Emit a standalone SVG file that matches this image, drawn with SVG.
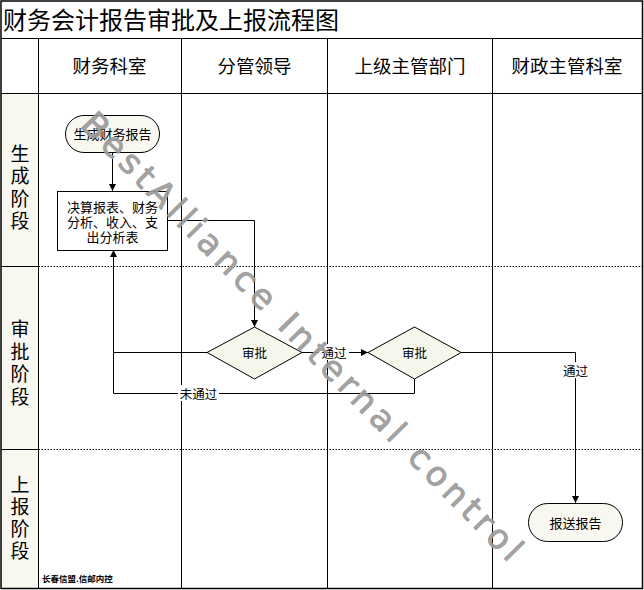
<svg xmlns="http://www.w3.org/2000/svg" width="644" height="590" viewBox="0 0 644 590">
<style>
.t{font-family:"Noto Sans CJK SC","Liberation Sans",sans-serif;fill:#000;text-anchor:middle;dominant-baseline:central}
.grid{stroke:#000;stroke-width:1;fill:none}
.dot{stroke:#000;stroke-width:1;stroke-dasharray:1.5 1.5;fill:none}
.ln{stroke:#000;stroke-width:1;fill:none}
.term{fill:#f8f8f0;stroke:#000;stroke-width:1}
.dia{fill:#f6f6ec;stroke:#000;stroke-width:1}
.lbl{fill:#fff;stroke:none}
</style>
<defs>
<marker id="arr" viewBox="0 0 10 10" refX="10" refY="5" markerWidth="7" markerHeight="7" markerUnits="userSpaceOnUse" orient="auto">
<path d="M0,0 L10,5 L0,10 z" fill="#000"/>
</marker>
</defs>
<rect x="0" y="0" width="644" height="590" fill="#fff"/>
<g id="frame">
<rect x="0.5" y="94" width="38" height="495" fill="#f8f8f0"/>
<rect x="1" y="1" width="641.5" height="587.5" fill="none" stroke="#000" stroke-width="1.5"/>
<line class="grid" x1="1" y1="38.5" x2="643" y2="38.5"/>
<line class="grid" x1="1" y1="93.5" x2="643" y2="93.5"/>
<line class="grid" x1="38.5" y1="38.5" x2="38.5" y2="588"/>
<line class="grid" x1="181.5" y1="38.5" x2="181.5" y2="588"/>
<line class="grid" x1="327.5" y1="38.5" x2="327.5" y2="588"/>
<line class="grid" x1="492.5" y1="38.5" x2="492.5" y2="588"/>
<line class="grid" x1="1" y1="266.5" x2="38.5" y2="266.5"/>
<line class="grid" x1="1" y1="449.5" x2="38.5" y2="449.5"/>
<line class="dot" x1="38.5" y1="266.5" x2="643" y2="266.5"/>
<line class="dot" x1="38.5" y1="449.5" x2="643" y2="449.5"/>
<text class="t" x="3" y="18" font-size="24" style="text-anchor:start">财务会计报告审批及上报流程图</text>
<text class="t" x="109.5" y="65" font-size="18.5">财务科室</text>
<text class="t" x="254.5" y="65" font-size="18.5">分管领导</text>
<text class="t" x="410" y="65" font-size="18.5">上级主管部门</text>
<text class="t" x="567" y="65" font-size="18.5">财政主管科室</text>
<text class="t" font-size="19"><tspan x="20" y="152">生</tspan><tspan x="20" dy="22.3">成</tspan><tspan x="20" dy="22.3">阶</tspan><tspan x="20" dy="22.3">段</tspan></text>
<text class="t" font-size="19"><tspan x="20" y="327">审</tspan><tspan x="20" dy="22.7">批</tspan><tspan x="20" dy="22.7">阶</tspan><tspan x="20" dy="22.7">段</tspan></text>
<text class="t" font-size="19"><tspan x="20" y="483">上</tspan><tspan x="20" dy="22">报</tspan><tspan x="20" dy="22">阶</tspan><tspan x="20" dy="22">段</tspan></text>
<text class="t" x="42" y="578" font-size="8.5" font-weight="bold" style="text-anchor:start">长春信盟.信邮内控</text>
</g>
<g id="connectors">
<line class="ln" x1="112.5" y1="152" x2="112.5" y2="191" marker-end="url(#arr)"/>
<polyline class="ln" points="167,220.5 254.5,220.5 254.5,327" marker-end="url(#arr)"/>
<polyline class="ln" points="207,352.5 113.5,352.5 113.5,250" marker-end="url(#arr)"/>
<polyline class="ln" points="414.5,379 414.5,393.5 113.5,393.5 113.5,352.5"/>
<line class="ln" x1="302" y1="352.5" x2="368" y2="352.5" marker-end="url(#arr)"/>
<polyline class="ln" points="461,352.5 575.5,352.5 575.5,503" marker-end="url(#arr)"/>
<rect class="lbl" x="319" y="344" width="30" height="16"/>
<text class="t" x="334" y="352" font-size="12.5">通过</text>
<rect class="lbl" x="178" y="385" width="41" height="16"/>
<text class="t" x="198.5" y="393" font-size="12.5">未通过</text>
<rect class="lbl" x="560" y="362" width="31" height="16"/>
<text class="t" x="575.5" y="370" font-size="12.5">通过</text>
</g>
<g id="n_generate">
<rect class="term" x="65.5" y="115.5" width="94" height="37" rx="18.5"/>
<text class="t" x="112.5" y="133.5" font-size="13">生成财务报告</text>
</g>
<g id="n_tables">
<rect x="57.5" y="191.5" width="110" height="59" fill="#fff" stroke="#000"/>
<text class="t" font-size="13"><tspan x="112.5" y="206">决算报表、财务</tspan><tspan x="112.5" dy="15">分析、收入、支</tspan><tspan x="112.5" dy="15">出分析表</tspan></text>
</g>
<g id="n_approve1">
<polygon class="dia" points="254.5,327 302,352.5 254.5,379 207,352.5"/>
<text class="t" x="254.5" y="352.5" font-size="12.5">审批</text>
</g>
<g id="n_approve2">
<polygon class="dia" points="414.5,327 461,352.5 414.5,379 368,352.5"/>
<text class="t" x="414.5" y="352.5" font-size="12.5">审批</text>
</g>
<g id="n_submit">
<rect class="term" x="528.5" y="503.5" width="94" height="38" rx="19"/>
<text class="t" x="575.5" y="522.5" font-size="13">报送报告</text>
</g>
<g id="watermark">
<text x="79" y="126" transform="rotate(45.5 79 126)" font-family="DejaVu Sans,Verdana,sans-serif" font-size="34" fill="#9a9a9a" stroke="#9a9a9a" stroke-width="0.9" fill-opacity="0.92" stroke-opacity="0.92" textLength="613" lengthAdjust="spacing">BestAlliance Internal control</text>
</g>
</svg>
